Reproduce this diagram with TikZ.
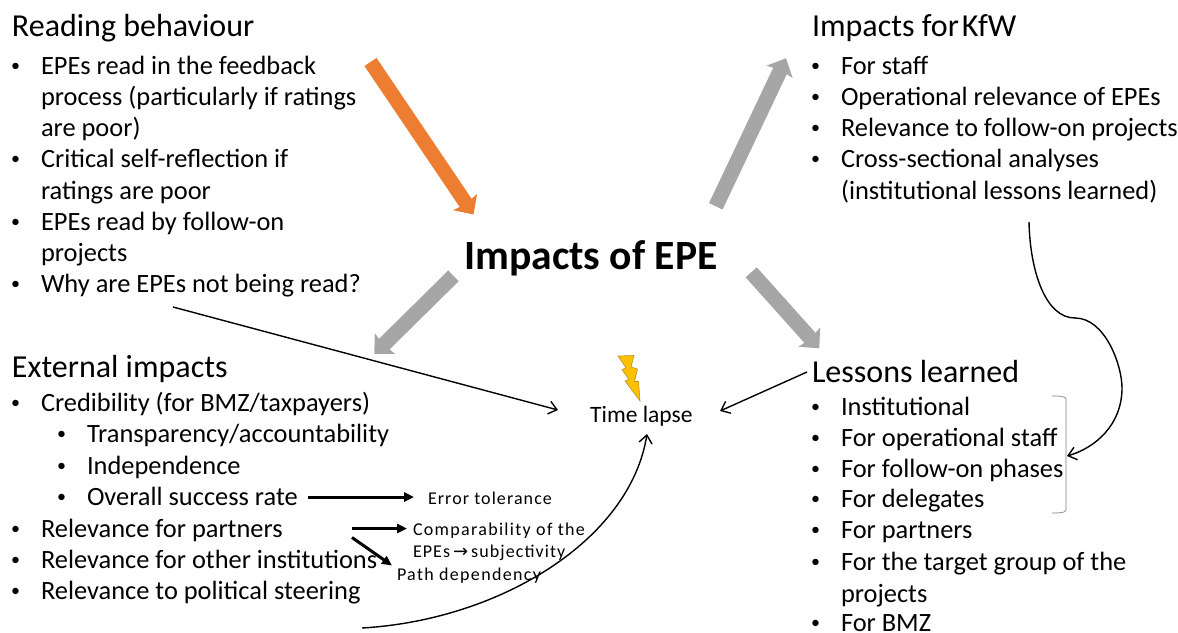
\documentclass[tikz,border=0pt]{standalone}
\usepackage{fontspec}
\setmainfont{Carlito}
\usetikzlibrary{arrows.meta}
\definecolor{arrowgray}{RGB}{166,166,166}
\definecolor{arroworange}{RGB}{237,125,49}
\definecolor{boltfill}{RGB}{255,192,0}
\definecolor{boltedge}{RGB}{190,145,30}
\tikzset{
  x=1pt,y=-1pt,
  txt/.style={anchor=base west,inner sep=0pt,outer sep=0pt,font=\fontsize{26.4}{30}\selectfont},
  bull/.style={anchor=base west,inner sep=0pt,outer sep=0pt,yshift=3pt,font=\fontsize{18}{20}\selectfont},
  head/.style={anchor=base west,inner sep=0pt,outer sep=0pt,font=\fontsize{32}{36}\selectfont},
  small/.style={anchor=base west,inner sep=0pt,outer sep=0pt,font=\fontsize{18}{22}\selectfont\addfontfeature{LetterSpace=6}},
  smallwide/.style={anchor=base west,inner sep=0pt,outer sep=0pt,font=\fontsize{18}{22}\selectfont\addfontfeature{LetterSpace=7.3}},
  blockorange/.style={arroworange,line width=14.5pt,-{Stealth[length=15pt,width=29pt,inset=2pt,line width=0pt]}},
  blockgray/.style={arrowgray,line width=15pt,-{Stealth[length=15pt,width=29pt,inset=2pt,line width=0pt]}},
  thin arrow/.style={draw=black,line width=1.4pt,-{Straight Barb[length=8pt,width=13pt]}},
  thick arrow/.style={draw=black,line width=3pt,-{Triangle[length=10pt,width=9pt]}},
}
\newcommand{\itm}[4]{\node[txt] (#1) at (#2,#3) {#4};}
\newcommand{\bul}[3]{\node[bull] (#1) at (#2,#3) {•};}
\begin{document}
\begin{tikzpicture}
\useasboundingbox (0,0) rectangle (1178,632);
\clip (0,0) rectangle (1178,632);
% Title
\node[anchor=base west,inner sep=0pt,font=\fontsize{41.6}{48}\selectfont\bfseries] (title) at (464,269) {Impacts of EPE};
% Reading behaviour
\node[head] (rb) at (12,36) {Reading behaviour};
\bul{rb1b}{11}{74}\itm{rb1}{41}{74}{EPEs read in the feedback}
\itm{rb2}{41}{105}{process (particularly if ratings}
\itm{rb3}{41}{136}{are poor)}
\bul{rb4b}{11}{167}\itm{rb4}{41}{167}{Critical self-reflection if}
\itm{rb5}{41}{199}{ratings are poor}
\bul{rb6b}{11}{230}\itm{rb6}{41}{230}{EPEs read by follow-on}
\itm{rb7}{41}{261}{projects}
\bul{rb8b}{11}{292}\itm{rb8}{41}{292}{Why are EPEs not being read?}
% Impacts for KfW
\node[head] (kfw) at (812,36) {Impacts for\hspace{3pt}KfW};
\bul{k1b}{811}{74}\itm{k1}{841}{74}{For staff}
\bul{k2b}{811}{105}\itm{k2}{841}{105}{Operational relevance of EPEs}
\bul{k3b}{811}{136}\itm{k3}{841}{136}{Relevance to follow-on projects}
\bul{k4b}{811}{167}\itm{k4}{841}{167}{Cross-sectional analyses}
\itm{k5}{841}{199}{(institutional lessons learned)}
% External impacts
\node[head] (ext) at (12,377) {External impacts};
\bul{e1b}{11}{411}\itm{e1}{41}{411}{Credibility (for BMZ/taxpayers)}
\bul{e2b}{57}{442}\itm{e2}{87}{442}{Transparency/accountability}
\bul{e3b}{57}{474}\itm{e3}{87}{474}{Independence}
\bul{e4b}{57}{505}\itm{e4}{87}{505}{Overall success rate}
\bul{e5b}{11}{537}\itm{e5}{41}{537}{Relevance for partners}
\bul{e6b}{11}{568}\itm{e6}{41}{568}{Relevance for other institutions}
\bul{e7b}{11}{599}\itm{e7}{41}{599}{Relevance to political steering}
% Lessons learned
\node[head] (ll) at (812,382) {Lessons learned};
\bul{l1b}{811}{415}\itm{l1}{841}{415}{Institutional}
\bul{l2b}{811}{446}\itm{l2}{841}{446}{For operational staff}
\bul{l3b}{811}{477}\itm{l3}{841}{477}{For follow-on phases}
\bul{l4b}{811}{507}\itm{l4}{841}{507}{For delegates}
\bul{l5b}{811}{538}\itm{l5}{841}{538}{For partners}
\bul{l6b}{811}{570}\itm{l6}{841}{570}{For the target group of the}
\itm{l7}{841}{602}{projects}
\bul{l8b}{811}{631}\itm{l8}{841}{631}{For BMZ}
% Time lapse
\node[anchor=base west,inner sep=0pt,font=\fontsize{23.5}{26}\selectfont] (tl) at (590,422) {Time lapse};
% Small labels
\node[small] (err) at (428,504) {Error tolerance};
\node[smallwide] (comp) at (413,535) {Comparability of the};
\node[small] (subj) at (413,557) {EPEs\,{\fontspec{DejaVu Sans}\fontsize{18}{18}\selectfont→}\,subjectivity};
\node[smallwide] (path) at (397,580) {Path dependency};
% Anchors for the connectors
\coordinate (oS) at (370.5,62);  \coordinate (oE) at (473.5,214.5);
\coordinate (aS) at (715.8,206.3); \coordinate (aE) at (786,58.3);
\coordinate (bS) at (453.5,275.8); \coordinate (bE) at (374.3,354);
\coordinate (cS) at (751.2,272.3); \coordinate (cE) at (819.3,348.3);
\coordinate (d1) at (173,307); \coordinate (d2) at (558,410);
\coordinate (f1) at (807,372); \coordinate (f2) at (720,411);
\coordinate (g1) at (362,628); \coordinate (g2) at (647,434);
\coordinate (h1) at (1029,222); \coordinate (h2) at (1075,318); \coordinate (h3) at (1067,456);
\coordinate (s1) at (308,497); \coordinate (s2) at (414,497);
\coordinate (s3) at (352,528.5); \coordinate (s4) at (407,528.5);
\coordinate (s5) at (352,537.5); \coordinate (s6) at (392,565.5);
% Block arrows
\path[blockorange,draw=arroworange] (oS) -- (oE);
\path[blockgray,draw=arrowgray] (aS) -- (aE);
\path[blockgray,draw=arrowgray] (bS) -- (bE);
\path[blockgray,draw=arrowgray] (cS) -- (cE);
% Thin arrows
\draw[thin arrow] (d1) -- (d2);
\draw[thin arrow] (f1) -- (f2);
\draw[thin arrow] (g1) .. controls (500,620) and (630,540) .. (g2);
\draw[draw=black,line width=1.4pt] (h1) .. controls (1030,270) and (1045,318) .. (h2);
\draw[thin arrow] (h2) .. controls (1105,318) and (1122,365) .. (1122,388) .. controls (1122,425) and (1095,448) .. (h3);
% Thick short arrows
\draw[thick arrow] (s1) -- (s2);
\draw[thick arrow] (s3) -- (s4);
\draw[thick arrow] (s5) -- (s6);
% Bracket
\draw[gray,line width=.7pt] (1052,396) .. controls (1058,396) and (1066,396) .. (1066,399) -- (1066,510) .. controls (1066,513) and (1058,513) .. (1052,513);
% Bolt
\draw[boltedge,fill=boltfill,line width=.6pt] (618,356) -- (634,355.5) -- (631,367) -- (637.5,369) -- (634.5,381.5) -- (638.5,381.5) -- (640,401) -- (625,381) -- (629,379.5) -- (622,369.5) -- (626,368) -- cycle;
\end{tikzpicture}
\end{document}
